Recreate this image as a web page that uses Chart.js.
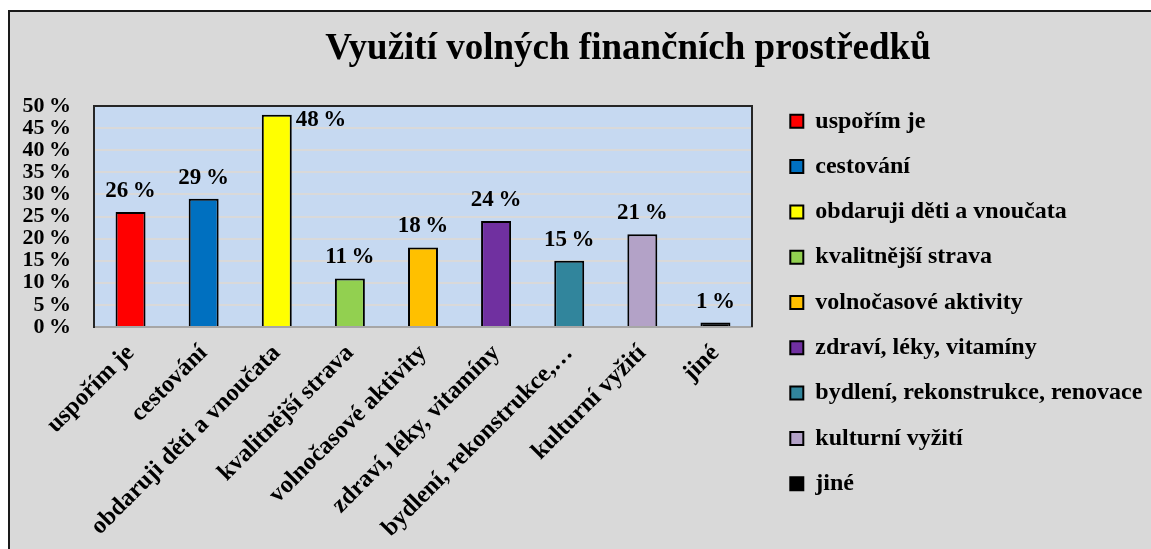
<!DOCTYPE html>
<html>
<head>
<meta charset="utf-8">
<script src="https://cdn.jsdelivr.net/npm/chart.js@4"></script>
<style>
    html, body { margin: 0; padding: 0; background: #ffffff; overflow: hidden; }
    #frame {
        position: absolute; left: 8px; top: 10px; width: 1200px; height: 600px;
        border: 2px solid #1a1a1a; background: #d9d9d9;
    }
    #wrap { position: absolute; left: 0; top: 0; width: 1151px; height: 549px; }
</style>
</head>
<body>
<div id="frame"></div>
<div id="wrap"><canvas id="chart" width="1151" height="549"></canvas></div>
<script>
/* ================= DATA ================= */
const categories = [
    'uspořím je',
    'cestování',
    'obdaruji děti a vnoučata',
    'kvalitnější strava',
    'volnočasové aktivity',
    'zdraví, léky, vitamíny',
    'bydlení, rekonstrukce, renovace',
    'kulturní vyžití',
    'jiné'
];
const shares = [26, 29, 48, 11, 18, 24, 15, 21, 1];
const barColors = ['#ff0000', '#0070c0', '#ffff00', '#92d050', '#ffc000', '#7030a0', '#31859c', '#b3a2c7', '#000000'];
const yTicks = [0, 5, 10, 15, 20, 25, 30, 35, 40, 45, 50];

const serif = '"Liberation Serif", "Times New Roman", serif';
const pct = v => v + '\u2009%';

/* ================= PLOT BACKGROUND + FRAME ================= */
const plotArea = {
    id: 'plotArea',
    beforeDraw(chart) {
        const { ctx, chartArea: a } = chart;
        ctx.save();
        ctx.fillStyle = '#c6d9f1';
        ctx.fillRect(a.left, a.top, a.right - a.left, a.bottom - a.top);
        ctx.restore();
    },
    afterDatasetsDraw(chart) {
        const { ctx, chartArea: a } = chart;
        ctx.save();
        ctx.strokeStyle = '#262626';
        ctx.lineWidth = 2;
        ctx.beginPath();
        ctx.moveTo(a.left, a.top);
        ctx.lineTo(a.right, a.top);
        ctx.lineTo(a.right, a.bottom);
        ctx.stroke();
        ctx.restore();
    }
};

/* ================= VALUE LABELS ================= */
const valueLabels = {
    id: 'valueLabels',
    afterDatasetsDraw(chart) {
        const { ctx, chartArea } = chart;
        const meta = chart.getDatasetMeta(0);
        ctx.save();
        ctx.font = 'bold 23px ' + serif;
        ctx.fillStyle = '#000000';
        meta.data.forEach((bar, i) => {
            const text = pct(shares[i]);
            if (bar.y - 38 < chartArea.top) {
                ctx.textAlign = 'left';
                ctx.fillText(text, bar.x + bar.width / 2 + 4, bar.y + 11);
            } else {
                ctx.textAlign = 'center';
                ctx.fillText(text, bar.x, bar.y - 15);
            }
        });
        ctx.restore();
    }
};

/* ================= BOX PLACEMENT ================= */
const placeBoxes = {
    id: 'placeBoxes',
    afterLayout(chart) {
        const t = chart.titleBlock;
        const shift = 628 - (t.left + t.right) / 2;
        t.left += shift;
        t.right += shift;

        // legend clips to its own box, so give it the whole right side
        const lg = chart.legend;
        lg.left = 769;
        lg.right = 1151;
        lg.width = lg.right - lg.left;
        lg.top = 88;
        lg.bottom = 549 + 88;
        lg.height = lg.bottom - lg.top;
    }
};

/* ================= CHART ================= */
const ctx = document.getElementById('chart').getContext('2d');

const chart = new Chart(ctx, {
    type: 'bar',
    data: {
        labels: categories,
        datasets: [{
            data: shares,
            backgroundColor: barColors,
            borderColor: '#000000',
            borderWidth: 2,
            borderSkipped: 'bottom',
            barPercentage: 0.41,
            categoryPercentage: 1
        }]
    },
    options: {
        responsive: false,
        animation: false,
        layout: { padding: { left: 0, right: 99, top: 0, bottom: 0 } },
        plugins: {
            title: {
                display: true,
                text: 'Využití volných finančních prostředků',
                color: '#000000',
                font: { family: serif, size: 37, weight: 'bold', lineHeight: 1.2 },
                padding: { top: 27, bottom: 34.6 }
            },
            legend: {
                position: 'right',
                align: 'start',
                maxWidth: 300,
                labels: {
                    color: '#000000',
                    font: { family: serif, size: 24, weight: 'bold' },
                    boxWidth: 13,
                    boxHeight: 13,
                    padding: 21.3,
                    generateLabels: () => categories.map((c, i) => ({
                        text: c,
                        fillStyle: barColors[i],
                        strokeStyle: '#000000',
                        lineWidth: 2,
                        index: i
                    }))
                }
            },
            tooltip: { enabled: false }
        },
        scales: {
            x: {
                grid: { display: false },
                border: { color: '#a6a6a6', width: 2 },
                ticks: {
                    color: '#000000',
                    font: { family: serif, size: 24.5, weight: 'bold' },
                    minRotation: 45,
                    maxRotation: 45,
                    autoSkip: false,
                    padding: 4,
                    callback: (v, i) => {
                        const c = categories[i];
                        return c.length > 27 ? c.slice(0, 22) + '…' : c;
                    }
                },
                afterFit: scale => { scale.height = 222; }
            },
            y: {
                min: 0,
                max: 50,
                grid: { color: '#d9d9d9', lineWidth: 2, drawTicks: false },
                border: { color: '#262626', width: 2 },
                afterBuildTicks: scale => { scale.ticks = yTicks.map(v => ({ value: v })); },
                ticks: {
                    color: '#000000',
                    font: { family: serif, size: 22, weight: 'bold' },
                    autoSkip: false,
                    padding: 23,
                    callback: v => pct(v)
                },
                afterFit: scale => { scale.width = 94; }
            }
        }
    },
    plugins: [plotArea, valueLabels, placeBoxes]
});
</script>
</body>
</html>
